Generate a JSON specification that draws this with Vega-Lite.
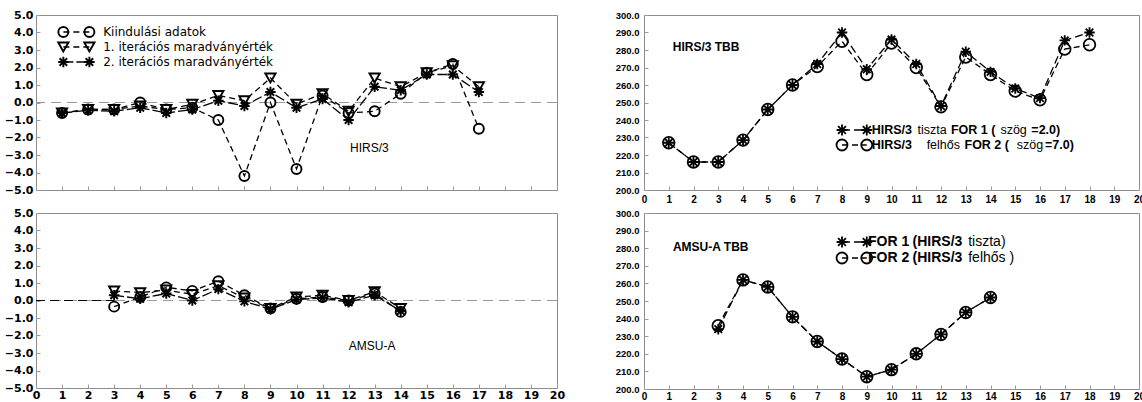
{
  "$schema": "https://vega.github.io/schema/vega-lite/v6.json",
  "autosize": {"type": "pad"},
  "padding": {"left": 3, "top": 8, "right": 0, "bottom": 0},
  "background": "white",
  "config": {
    "view": {"stroke": "#8c8c8c", "strokeWidth": 1},
    "axis": {"domain": false, "grid": false, "tickColor": "#9a9a9a", "tickSize": -4, "tickCount": 40, "labelColor": "#000", "title": null, "labelOverlap": false, "labelFlush": false, "labelBound": false}
  },
  "resolve": {"scale": {"shape": "independent", "strokeDash": "independent", "size": "independent"}},
  "datasets": {
    "resid_hirs": [
      {"ch": 1, "series": "Kiindulási adatok", "value": -0.6},
      {"ch": 2, "series": "Kiindulási adatok", "value": -0.4},
      {"ch": 3, "series": "Kiindulási adatok", "value": -0.4},
      {"ch": 4, "series": "Kiindulási adatok", "value": 0.0},
      {"ch": 5, "series": "Kiindulási adatok", "value": -0.4},
      {"ch": 6, "series": "Kiindulási adatok", "value": -0.3},
      {"ch": 7, "series": "Kiindulási adatok", "value": -1.0},
      {"ch": 8, "series": "Kiindulási adatok", "value": -4.2},
      {"ch": 9, "series": "Kiindulási adatok", "value": 0.0},
      {"ch": 10, "series": "Kiindulási adatok", "value": -3.8},
      {"ch": 11, "series": "Kiindulási adatok", "value": 0.4},
      {"ch": 12, "series": "Kiindulási adatok", "value": -0.6},
      {"ch": 13, "series": "Kiindulási adatok", "value": -0.5},
      {"ch": 14, "series": "Kiindulási adatok", "value": 0.5},
      {"ch": 15, "series": "Kiindulási adatok", "value": 1.7},
      {"ch": 16, "series": "Kiindulási adatok", "value": 2.2},
      {"ch": 17, "series": "Kiindulási adatok", "value": -1.5},
      {"ch": 1, "series": "1. iterációs maradványérték", "value": -0.6},
      {"ch": 2, "series": "1. iterációs maradványérték", "value": -0.4},
      {"ch": 3, "series": "1. iterációs maradványérték", "value": -0.4},
      {"ch": 4, "series": "1. iterációs maradványérték", "value": -0.2},
      {"ch": 5, "series": "1. iterációs maradványérték", "value": -0.4},
      {"ch": 6, "series": "1. iterációs maradványérték", "value": -0.1},
      {"ch": 7, "series": "1. iterációs maradványérték", "value": 0.4},
      {"ch": 8, "series": "1. iterációs maradványérték", "value": 0.1},
      {"ch": 9, "series": "1. iterációs maradványérték", "value": 1.4},
      {"ch": 10, "series": "1. iterációs maradványérték", "value": -0.1},
      {"ch": 11, "series": "1. iterációs maradványérték", "value": 0.5},
      {"ch": 12, "series": "1. iterációs maradványérték", "value": -0.5},
      {"ch": 13, "series": "1. iterációs maradványérték", "value": 1.4},
      {"ch": 14, "series": "1. iterációs maradványérték", "value": 0.9},
      {"ch": 15, "series": "1. iterációs maradványérték", "value": 1.7},
      {"ch": 16, "series": "1. iterációs maradványérték", "value": 2.1},
      {"ch": 17, "series": "1. iterációs maradványérték", "value": 0.9},
      {"ch": 1, "series": "2. iterációs maradványérték", "value": -0.6},
      {"ch": 2, "series": "2. iterációs maradványérték", "value": -0.45},
      {"ch": 3, "series": "2. iterációs maradványérték", "value": -0.5},
      {"ch": 4, "series": "2. iterációs maradványérték", "value": -0.3},
      {"ch": 5, "series": "2. iterációs maradványérték", "value": -0.6},
      {"ch": 6, "series": "2. iterációs maradványérték", "value": -0.4},
      {"ch": 7, "series": "2. iterációs maradványérték", "value": 0.1},
      {"ch": 8, "series": "2. iterációs maradványérték", "value": -0.2},
      {"ch": 9, "series": "2. iterációs maradványérték", "value": 0.6},
      {"ch": 10, "series": "2. iterációs maradványérték", "value": -0.3},
      {"ch": 11, "series": "2. iterációs maradványérték", "value": 0.2},
      {"ch": 12, "series": "2. iterációs maradványérték", "value": -1.0},
      {"ch": 13, "series": "2. iterációs maradványérték", "value": 0.9},
      {"ch": 14, "series": "2. iterációs maradványérték", "value": 0.7},
      {"ch": 15, "series": "2. iterációs maradványérték", "value": 1.6},
      {"ch": 16, "series": "2. iterációs maradványérték", "value": 1.6},
      {"ch": 17, "series": "2. iterációs maradványérték", "value": 0.6}
    ],
    "resid_amsu": [
      {"ch": 3, "series": "Kiindulási adatok", "value": -0.35},
      {"ch": 4, "series": "Kiindulási adatok", "value": 0.2},
      {"ch": 5, "series": "Kiindulási adatok", "value": 0.75},
      {"ch": 6, "series": "Kiindulási adatok", "value": 0.55},
      {"ch": 7, "series": "Kiindulási adatok", "value": 1.1},
      {"ch": 8, "series": "Kiindulási adatok", "value": 0.3},
      {"ch": 9, "series": "Kiindulási adatok", "value": -0.45},
      {"ch": 10, "series": "Kiindulási adatok", "value": 0.1},
      {"ch": 11, "series": "Kiindulási adatok", "value": 0.2},
      {"ch": 12, "series": "Kiindulási adatok", "value": 0.0},
      {"ch": 13, "series": "Kiindulási adatok", "value": 0.4},
      {"ch": 14, "series": "Kiindulási adatok", "value": -0.65},
      {"ch": 3, "series": "1. iterációs maradványérték", "value": 0.55},
      {"ch": 4, "series": "1. iterációs maradványérték", "value": 0.45},
      {"ch": 5, "series": "1. iterációs maradványérték", "value": 0.6},
      {"ch": 6, "series": "1. iterációs maradványérték", "value": 0.35},
      {"ch": 7, "series": "1. iterációs maradványérték", "value": 0.85},
      {"ch": 8, "series": "1. iterációs maradványérték", "value": 0.15},
      {"ch": 9, "series": "1. iterációs maradványérték", "value": -0.45},
      {"ch": 10, "series": "1. iterációs maradványérték", "value": 0.2},
      {"ch": 11, "series": "1. iterációs maradványérték", "value": 0.3},
      {"ch": 12, "series": "1. iterációs maradványérték", "value": 0.0},
      {"ch": 13, "series": "1. iterációs maradványérték", "value": 0.5},
      {"ch": 14, "series": "1. iterációs maradványérték", "value": -0.45},
      {"ch": 3, "series": "2. iterációs maradványérték", "value": 0.3},
      {"ch": 4, "series": "2. iterációs maradványérték", "value": 0.1},
      {"ch": 5, "series": "2. iterációs maradványérték", "value": 0.4},
      {"ch": 6, "series": "2. iterációs maradványérték", "value": 0.0},
      {"ch": 7, "series": "2. iterációs maradványérték", "value": 0.65},
      {"ch": 8, "series": "2. iterációs maradványérték", "value": -0.05},
      {"ch": 9, "series": "2. iterációs maradványérték", "value": -0.5},
      {"ch": 10, "series": "2. iterációs maradványérték", "value": 0.05},
      {"ch": 11, "series": "2. iterációs maradványérték", "value": 0.15},
      {"ch": 12, "series": "2. iterációs maradványérték", "value": -0.1},
      {"ch": 13, "series": "2. iterációs maradványérték", "value": 0.3},
      {"ch": 14, "series": "2. iterációs maradványérték", "value": -0.6}
    ],
    "tbb_hirs": [
      {"ch": 1, "series": "FOR 1", "tbb": 227}, {"ch": 2, "series": "FOR 1", "tbb": 216},
      {"ch": 3, "series": "FOR 1", "tbb": 216}, {"ch": 4, "series": "FOR 1", "tbb": 228.5},
      {"ch": 5, "series": "FOR 1", "tbb": 246}, {"ch": 6, "series": "FOR 1", "tbb": 260},
      {"ch": 7, "series": "FOR 1", "tbb": 272}, {"ch": 8, "series": "FOR 1", "tbb": 290},
      {"ch": 9, "series": "FOR 1", "tbb": 269}, {"ch": 10, "series": "FOR 1", "tbb": 286},
      {"ch": 11, "series": "FOR 1", "tbb": 272}, {"ch": 12, "series": "FOR 1", "tbb": 248},
      {"ch": 13, "series": "FOR 1", "tbb": 279}, {"ch": 14, "series": "FOR 1", "tbb": 267.5},
      {"ch": 15, "series": "FOR 1", "tbb": 258}, {"ch": 16, "series": "FOR 1", "tbb": 252.5},
      {"ch": 17, "series": "FOR 1", "tbb": 285.5}, {"ch": 18, "series": "FOR 1", "tbb": 290},
      {"ch": 1, "series": "FOR 2", "tbb": 227}, {"ch": 2, "series": "FOR 2", "tbb": 216},
      {"ch": 3, "series": "FOR 2", "tbb": 216}, {"ch": 4, "series": "FOR 2", "tbb": 228.5},
      {"ch": 5, "series": "FOR 2", "tbb": 246}, {"ch": 6, "series": "FOR 2", "tbb": 260},
      {"ch": 7, "series": "FOR 2", "tbb": 270.5}, {"ch": 8, "series": "FOR 2", "tbb": 285},
      {"ch": 9, "series": "FOR 2", "tbb": 266}, {"ch": 10, "series": "FOR 2", "tbb": 284},
      {"ch": 11, "series": "FOR 2", "tbb": 270}, {"ch": 12, "series": "FOR 2", "tbb": 247.5},
      {"ch": 13, "series": "FOR 2", "tbb": 276}, {"ch": 14, "series": "FOR 2", "tbb": 266},
      {"ch": 15, "series": "FOR 2", "tbb": 256.5}, {"ch": 16, "series": "FOR 2", "tbb": 251.5},
      {"ch": 17, "series": "FOR 2", "tbb": 280.5}, {"ch": 18, "series": "FOR 2", "tbb": 283}
    ],
    "tbb_amsu": [
      {"ch": 3, "series": "FOR 1", "tbb": 234}, {"ch": 4, "series": "FOR 1", "tbb": 262},
      {"ch": 5, "series": "FOR 1", "tbb": 258}, {"ch": 6, "series": "FOR 1", "tbb": 241},
      {"ch": 7, "series": "FOR 1", "tbb": 227}, {"ch": 8, "series": "FOR 1", "tbb": 217},
      {"ch": 9, "series": "FOR 1", "tbb": 207}, {"ch": 10, "series": "FOR 1", "tbb": 211},
      {"ch": 11, "series": "FOR 1", "tbb": 220}, {"ch": 12, "series": "FOR 1", "tbb": 231},
      {"ch": 13, "series": "FOR 1", "tbb": 243.5}, {"ch": 14, "series": "FOR 1", "tbb": 252},
      {"ch": 3, "series": "FOR 2", "tbb": 236}, {"ch": 4, "series": "FOR 2", "tbb": 262},
      {"ch": 5, "series": "FOR 2", "tbb": 258}, {"ch": 6, "series": "FOR 2", "tbb": 241},
      {"ch": 7, "series": "FOR 2", "tbb": 227}, {"ch": 8, "series": "FOR 2", "tbb": 217},
      {"ch": 9, "series": "FOR 2", "tbb": 207}, {"ch": 10, "series": "FOR 2", "tbb": 211},
      {"ch": 11, "series": "FOR 2", "tbb": 220}, {"ch": 12, "series": "FOR 2", "tbb": 231},
      {"ch": 13, "series": "FOR 2", "tbb": 243.5}, {"ch": 14, "series": "FOR 2", "tbb": 252}
    ]
  },
  "columns": 2,
  "spacing": {"row": 23, "column": 87},
  "bounds": "flush",
  "concat": [
    {
      "width": 521,
      "height": 175,
      "resolve": {"scale": {"y": "independent"}},
      "layer": [
        {
          "layer": [
            {
              "data": {"values": [{}]},
              "mark": {"type": "rule", "stroke": "#9a9a9a", "strokeWidth": 1, "strokeDash": [10, 6]},
              "encoding": {"y": {"datum": 0, "type": "quantitative", "scale": {"domain": [-5, 5]}}}
            },
            {
              "data": {"name": "resid_hirs"},
              "mark": {"type": "line", "stroke": "black", "strokeWidth": 1.3},
              "encoding": {
                "x": {"field": "ch", "type": "quantitative", "scale": {"domain": [0, 20]},
                  "axis": {"values": [0,1,2,3,4,5,6,7,8,9,10,11,12,13,14,15,16,17,18,19,20], "tickCount": 40, "labels": false, "labelOverlap": false}},
                "y": {"field": "value", "type": "quantitative", "scale": {"domain": [-5, 5]},
                  "axis": {"values": [-5,-4,-3,-2,-1,0,1,2,3,4,5], "tickCount": 40, "format": ".1f", "labelOverlap": false, "labelFont": "DejaVu Sans", "labelFontWeight": "bold", "labelFontSize": 11, "labelPadding": 7}},
                "strokeDash": {"field": "series", "type": "nominal", "legend": null,
                  "scale": {"domain": ["Kiindulási adatok", "1. iterációs maradványérték", "2. iterációs maradványérték"], "range": [[6, 4], [6, 4], [10, 3]]}}
              }
            },
            {
              "data": {"name": "resid_hirs"},
              "mark": {"type": "point", "filled": false, "stroke": "black", "strokeWidth": 1.9, "opacity": 1},
              "encoding": {
                "x": {"field": "ch", "type": "quantitative"},
                "y": {"field": "value", "type": "quantitative"},
                "shape": {"field": "series", "type": "nominal", "legend": null,
                  "scale": {"domain": ["Kiindulási adatok", "1. iterációs maradványérték", "2. iterációs maradványérték"],
                    "range": ["circle", "triangle-down", "M-1,0L1,0M0,-1L0,1M-0.72,-0.72L0.72,0.72M-0.72,0.72L0.72,-0.72"]}},
                "size": {"field": "series", "type": "nominal", "legend": null,
                  "scale": {"domain": ["Kiindulási adatok", "1. iterációs maradványérték", "2. iterációs maradványérték"], "range": [100, 110, 125]}}
              }
            },
            {
              "data": {"values": [{}]},
              "mark": {"type": "text", "text": "HIRS/3", "font": "Liberation Sans", "fontSize": 12, "align": "center", "baseline": "middle", "color": "black"},
              "encoding": {"x": {"datum": 12.8}, "y": {"datum": -2.6}}
            }
          ]
        },
        {
          "data": {"values": [{"series": "Kiindulási adatok"}, {"series": "1. iterációs maradványérték"}, {"series": "2. iterációs maradványérték"}]},
          "encoding": {
            "y": {"field": "series", "type": "nominal", "axis": null, "sort": null,
              "scale": {"type": "point", "padding": 0, "domain": ["Kiindulási adatok", "1. iterációs maradványérték", "2. iterációs maradványérték"], "range": [17, 47]}}
          },
          "layer": [
            {
              "mark": {"type": "rule", "stroke": "black", "strokeWidth": 1.3},
              "encoding": {"x": {"datum": 1.05}, "x2": {"datum": 2.05},
                "strokeDash": {"field": "series", "type": "nominal", "legend": null}}
            },
            {
              "mark": {"type": "point", "filled": false, "stroke": "black", "strokeWidth": 1.9, "opacity": 1},
              "encoding": {"x": {"datum": 1.05}, "shape": {"field": "series", "type": "nominal", "legend": null}, "size": {"field": "series", "type": "nominal", "legend": null}}
            },
            {
              "mark": {"type": "point", "filled": false, "stroke": "black", "strokeWidth": 1.9, "opacity": 1},
              "encoding": {"x": {"datum": 2.05}, "shape": {"field": "series", "type": "nominal", "legend": null}, "size": {"field": "series", "type": "nominal", "legend": null}}
            },
            {
              "mark": {"type": "text", "font": "DejaVu Sans", "fontSize": 12, "align": "left", "baseline": "middle", "color": "black"},
              "encoding": {"x": {"datum": 2.58}, "text": {"field": "series"}}
            }
          ]
        }
      ]
    },
    {
      "width": 495,
      "height": 175,
      "resolve": {"scale": {"y": "independent"}},
      "layer": [
        {
          "layer": [
            {
              "data": {"name": "tbb_hirs"},
              "mark": {"type": "line", "stroke": "black", "strokeWidth": 1.3},
              "encoding": {
                "x": {"field": "ch", "type": "quantitative", "scale": {"domain": [0, 20]},
                  "axis": {"values": [0,1,2,3,4,5,6,7,8,9,10,11,12,13,14,15,16,17,18,19,20], "tickCount": 40, "format": "d", "labelOverlap": false, "labelFont": "Liberation Sans", "labelFontWeight": "bold", "labelFontSize": 10, "labelPadding": 8}},
                "y": {"field": "tbb", "type": "quantitative", "scale": {"domain": [200, 300]},
                  "axis": {"values": [200,210,220,230,240,250,260,270,280,290,300], "tickCount": 40, "format": ".1f", "labelOverlap": false, "labelFont": "Liberation Sans", "labelFontWeight": "bold", "labelFontSize": 9.5, "labelPadding": 9}},
                "strokeDash": {"field": "series", "type": "nominal", "legend": null,
                  "scale": {"domain": ["FOR 1", "FOR 2"], "range": [[8, 4], [6, 4]]}}
              }
            },
            {
              "data": {"name": "tbb_hirs"},
              "mark": {"type": "point", "filled": false, "stroke": "black", "strokeWidth": 1.8, "opacity": 1},
              "encoding": {
                "x": {"field": "ch", "type": "quantitative"},
                "y": {"field": "tbb", "type": "quantitative"},
                "shape": {"field": "series", "type": "nominal", "legend": null,
                  "scale": {"domain": ["FOR 1", "FOR 2"], "range": ["M-1,0L1,0M0,-1L0,1M-0.72,-0.72L0.72,0.72M-0.72,0.72L0.72,-0.72", "circle"]}},
                "size": {"field": "series", "type": "nominal", "legend": null, "scale": {"domain": ["FOR 1", "FOR 2"], "range": [110, 135]}}
              }
            },
            {
              "data": {"values": [{}]},
              "mark": {"type": "text", "text": "HIRS/3 TBB", "font": "Liberation Sans", "fontWeight": "bold", "fontSize": 12, "align": "left", "baseline": "middle", "color": "black"},
              "encoding": {"x": {"datum": 1.16}, "y": {"datum": 281.5}}
            }
          ]
        },
        {
          "data": {"values": [{"series": "FOR 1"}, {"series": "FOR 2"}]},
          "encoding": {
            "y": {"field": "series", "type": "nominal", "axis": null, "sort": null,
              "scale": {"type": "point", "padding": 0, "domain": ["FOR 1", "FOR 2"], "range": [115, 130]}}
          },
          "layer": [
            {
              "mark": {"type": "rule", "stroke": "black", "strokeWidth": 1.3},
              "encoding": {"x": {"datum": 8.0}, "x2": {"datum": 9.0},
                "strokeDash": {"field": "series", "type": "nominal", "legend": null}}
            },
            {
              "mark": {"type": "point", "filled": false, "stroke": "black", "strokeWidth": 1.8, "size": 120, "opacity": 1},
              "encoding": {"x": {"datum": 8.0}, "shape": {"field": "series", "type": "nominal", "legend": null}}
            },
            {
              "mark": {"type": "point", "filled": false, "stroke": "black", "strokeWidth": 1.8, "size": 120, "opacity": 1},
              "encoding": {"x": {"datum": 9.0}, "shape": {"field": "series", "type": "nominal", "legend": null}}
            },
            {
              "mark": {"type": "text", "text": "HIRS/3", "font": "Liberation Sans", "fontWeight": "bold", "fontSize": 12.5, "align": "left", "baseline": "middle", "color": "black"},
              "encoding": {"x": {"datum": 9.2}}
            },
            {
              "transform": [{"filter": "datum.series === 'FOR 1'"}],
              "layer": [
                {"mark": {"type": "text", "text": "tiszta", "font": "Liberation Sans", "fontSize": 12.5, "align": "left", "baseline": "middle", "color": "black"}, "encoding": {"x": {"datum": 11.05}}},
                {"mark": {"type": "text", "text": "FOR 1 (", "font": "Liberation Sans", "fontWeight": "bold", "fontSize": 12.5, "align": "left", "baseline": "middle", "color": "black"}, "encoding": {"x": {"datum": 12.4}}},
                {"mark": {"type": "text", "text": "szög", "font": "Liberation Sans", "fontSize": 12.5, "align": "left", "baseline": "middle", "color": "black"}, "encoding": {"x": {"datum": 14.4}}},
                {"mark": {"type": "text", "text": "=2.0)", "font": "Liberation Sans", "fontWeight": "bold", "fontSize": 12.5, "align": "left", "baseline": "middle", "color": "black"}, "encoding": {"x": {"datum": 15.65}}}
              ]
            },
            {
              "transform": [{"filter": "datum.series === 'FOR 2'"}],
              "layer": [
                {"mark": {"type": "text", "text": "felhős", "font": "Liberation Sans", "fontSize": 12.5, "align": "left", "baseline": "middle", "color": "black"}, "encoding": {"x": {"datum": 11.42}}},
                {"mark": {"type": "text", "text": "FOR 2 (", "font": "Liberation Sans", "fontWeight": "bold", "fontSize": 12.5, "align": "left", "baseline": "middle", "color": "black"}, "encoding": {"x": {"datum": 12.95}}},
                {"mark": {"type": "text", "text": "szög", "font": "Liberation Sans", "fontSize": 12.5, "align": "left", "baseline": "middle", "color": "black"}, "encoding": {"x": {"datum": 15.06}}},
                {"mark": {"type": "text", "text": "=7.0)", "font": "Liberation Sans", "fontWeight": "bold", "fontSize": 12.5, "align": "left", "baseline": "middle", "color": "black"}, "encoding": {"x": {"datum": 16.2}}}
              ]
            }
          ]
        }
      ]
    },
    {
      "width": 521,
      "height": 175,
      "layer": [
        {
          "data": {"values": [{}]},
          "mark": {"type": "rule", "stroke": "#9a9a9a", "strokeWidth": 1, "strokeDash": [10, 6]},
          "encoding": {"y": {"datum": 0, "type": "quantitative", "scale": {"domain": [-5, 5]}}}
        },
        {
          "data": {"values": [{}]},
          "mark": {"type": "rule", "stroke": "black", "strokeWidth": 1.2, "strokeDash": [9, 5]},
          "encoding": {"x": {"datum": 0}, "x2": {"datum": 3}, "y": {"datum": 0}}
        },
        {
          "data": {"name": "resid_amsu"},
          "mark": {"type": "line", "stroke": "black", "strokeWidth": 1.3},
          "encoding": {
            "x": {"field": "ch", "type": "quantitative", "scale": {"domain": [0, 20]},
              "axis": {"values": [0,1,2,3,4,5,6,7,8,9,10,11,12,13,14,15,16,17,18,19,20], "tickCount": 40, "format": "d", "labelOverlap": false, "labelFont": "DejaVu Sans", "labelFontWeight": "bold", "labelFontSize": 11, "labelPadding": 5}},
            "y": {"field": "value", "type": "quantitative", "scale": {"domain": [-5, 5]},
              "axis": {"values": [-5,-4,-3,-2,-1,0,1,2,3,4,5], "tickCount": 40, "format": ".1f", "labelOverlap": false, "labelFont": "DejaVu Sans", "labelFontWeight": "bold", "labelFontSize": 11, "labelPadding": 7}},
            "strokeDash": {"field": "series", "type": "nominal", "legend": null,
              "scale": {"domain": ["Kiindulási adatok", "1. iterációs maradványérték", "2. iterációs maradványérték"], "range": [[6, 4], [6, 4], [10, 3]]}}
          }
        },
        {
          "data": {"name": "resid_amsu"},
          "mark": {"type": "point", "filled": false, "stroke": "black", "strokeWidth": 1.9, "opacity": 1},
          "encoding": {
            "x": {"field": "ch", "type": "quantitative"},
            "y": {"field": "value", "type": "quantitative"},
            "shape": {"field": "series", "type": "nominal", "legend": null,
              "scale": {"domain": ["Kiindulási adatok", "1. iterációs maradványérték", "2. iterációs maradványérték"],
                "range": ["circle", "triangle-down", "M-1,0L1,0M0,-1L0,1M-0.72,-0.72L0.72,0.72M-0.72,0.72L0.72,-0.72"]}},
            "size": {"field": "series", "type": "nominal", "legend": null,
              "scale": {"domain": ["Kiindulási adatok", "1. iterációs maradványérték", "2. iterációs maradványérték"], "range": [100, 110, 125]}}
          }
        },
        {
          "data": {"values": [{}]},
          "mark": {"type": "text", "text": "AMSU-A", "font": "Liberation Sans", "fontSize": 12, "align": "center", "baseline": "middle", "color": "black"},
          "encoding": {"x": {"datum": 12.9}, "y": {"datum": -2.6}}
        }
      ]
    },
    {
      "width": 495,
      "height": 176,
      "resolve": {"scale": {"y": "independent"}},
      "layer": [
        {
          "layer": [
            {
              "data": {"name": "tbb_amsu"},
              "mark": {"type": "line", "stroke": "black", "strokeWidth": 1.3},
              "encoding": {
                "x": {"field": "ch", "type": "quantitative", "scale": {"domain": [0, 20]},
                  "axis": {"values": [0,1,2,3,4,5,6,7,8,9,10,11,12,13,14,15,16,17,18,19,20], "tickCount": 40, "format": "d", "labelOverlap": false, "labelFont": "Liberation Sans", "labelFontWeight": "bold", "labelFontSize": 10, "labelPadding": 6}},
                "y": {"field": "tbb", "type": "quantitative", "scale": {"domain": [200, 300]},
                  "axis": {"values": [200,210,220,230,240,250,260,270,280,290,300], "tickCount": 40, "format": ".1f", "labelOverlap": false, "labelFont": "Liberation Sans", "labelFontWeight": "bold", "labelFontSize": 9.5, "labelPadding": 9}},
                "strokeDash": {"field": "series", "type": "nominal", "legend": null,
                  "scale": {"domain": ["FOR 1", "FOR 2"], "range": [[8, 4], [6, 4]]}}
              }
            },
            {
              "data": {"name": "tbb_amsu"},
              "mark": {"type": "point", "filled": false, "stroke": "black", "strokeWidth": 1.8, "opacity": 1},
              "encoding": {
                "x": {"field": "ch", "type": "quantitative"},
                "y": {"field": "tbb", "type": "quantitative"},
                "shape": {"field": "series", "type": "nominal", "legend": null,
                  "scale": {"domain": ["FOR 1", "FOR 2"], "range": ["M-1,0L1,0M0,-1L0,1M-0.72,-0.72L0.72,0.72M-0.72,0.72L0.72,-0.72", "circle"]}},
                "size": {"field": "series", "type": "nominal", "legend": null, "scale": {"domain": ["FOR 1", "FOR 2"], "range": [110, 135]}}
              }
            },
            {
              "data": {"values": [{}]},
              "mark": {"type": "text", "text": "AMSU-A TBB", "font": "Liberation Sans", "fontWeight": "bold", "fontSize": 12, "align": "left", "baseline": "middle", "color": "black"},
              "encoding": {"x": {"datum": 1.17}, "y": {"datum": 280.6}}
            }
          ]
        },
        {
          "data": {"values": [{"series": "FOR 1"}, {"series": "FOR 2"}]},
          "encoding": {
            "y": {"field": "series", "type": "nominal", "axis": null, "sort": null,
              "scale": {"type": "point", "padding": 0, "domain": ["FOR 1", "FOR 2"], "range": [29, 45]}}
          },
          "layer": [
            {
              "mark": {"type": "rule", "stroke": "black", "strokeWidth": 1.3},
              "encoding": {"x": {"datum": 8.0}, "x2": {"datum": 9.0},
                "strokeDash": {"field": "series", "type": "nominal", "legend": null}}
            },
            {
              "mark": {"type": "point", "filled": false, "stroke": "black", "strokeWidth": 1.8, "size": 120, "opacity": 1},
              "encoding": {"x": {"datum": 8.0}, "shape": {"field": "series", "type": "nominal", "legend": null}}
            },
            {
              "mark": {"type": "point", "filled": false, "stroke": "black", "strokeWidth": 1.8, "size": 120, "opacity": 1},
              "encoding": {"x": {"datum": 9.0}, "shape": {"field": "series", "type": "nominal", "legend": null}}
            },
            {
              "mark": {"type": "text", "font": "Liberation Sans", "fontWeight": "bold", "fontSize": 14, "align": "left", "baseline": "middle", "color": "black"},
              "encoding": {"x": {"datum": 9.05}, "text": {"field": "series"}}
            },
            {
              "mark": {"type": "text", "text": "(HIRS/3", "font": "Liberation Sans", "fontWeight": "bold", "fontSize": 14, "align": "left", "baseline": "middle", "color": "black"},
              "encoding": {"x": {"datum": 10.85}}
            },
            {
              "transform": [{"filter": "datum.series === 'FOR 1'"}],
              "mark": {"type": "text", "text": "tiszta)", "font": "Liberation Sans", "fontSize": 14, "align": "left", "baseline": "middle", "color": "black"},
              "encoding": {"x": {"datum": 13.1}}
            },
            {
              "transform": [{"filter": "datum.series === 'FOR 2'"}],
              "mark": {"type": "text", "text": "felhős )", "font": "Liberation Sans", "fontSize": 14, "align": "left", "baseline": "middle", "color": "black"},
              "encoding": {"x": {"datum": 13.1}}
            }
          ]
        }
      ]
    }
  ]
}
